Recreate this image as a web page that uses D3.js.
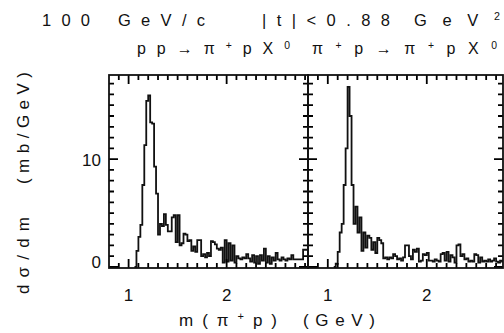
<!DOCTYPE html>
<html>
<head>
<meta charset="utf-8">
<script src="https://cdn.jsdelivr.net/npm/d3@7"></script>
<style>
  body { margin: 0; background: #fff; }
  svg { display: block; }
  text { font-family: "Liberation Sans", Arial, sans-serif; fill: #111; }
</style>
</head>
<body>
<div id="chart"></div>
<script>
// bin edges start at 1.06 GeV, width 0.02 GeV
var binStart = 1.06;
var binWidth = 0.02;

var ppValues = [
    0, 1.5, 2.8, 3.9, 7.6, 11.3, 15.4, 15.9, 13.4, 13.3,
    9.3, 6.8, 3.0, 4.0, 3.8, 4.9, 3.9, 3.3, 3.3, 4.6,
    4.8, 2.3, 4.8, 2.0, 2.2, 3.1, 3.0, 2.4, 2.5, 1.5,
    1.9, 1.4, 2.5, 2.5, 1.0, 1.2, 0.9, 1.3, 1.0, 2.4,
    2.3, 2.1, 1.7, 1.6, 1.8, 0.4, 2.5, 0.5, 2.2, 0.6,
    2.0, 0.4, 1.0, 0.8, 0.7, 0.9, 0.8, 1.2, 0.8, 0.5,
    1.1, 0.4, 1.0, 0.3, 1.1, 0.6, 1.7, 0.4, 1.0, 0.3,
    0.9, 0.6, 1.3, 0.7, 0.6, 0.9, 0.7, 0.6, 0.8, 0.7,
    1.1, 0.7, 0.7, 0.7, 0.7, 0.7, 1.6, 1.6
];

var pipValues = [
    0, 0.3, 1.4, 3.2, 4.0, 7.6, 11.0, 16.7, 14.0, 7.6,
    4.0, 5.6, 3.2, 4.6, 1.5, 3.2, 1.8, 2.9, 2.7, 1.6,
    2.3, 1.3, 2.7, 2.5, 2.2, 0.8, 0.9, 0.7, 0.9, 0.8,
    1.2, 1.0, 0.7, 0.8, 0.6, 0.9, 2.0, 2.0, 1.0, 0.7,
    1.6, 1.4, 1.7, 0.5, 0.6, 1.2, 1.1, 1.3, 0.6, 0.6,
    0.5, 0.7, 0.6, 0.5, 1.2, 1.3, 0.6, 1.4, 0.5, 1.1,
    0.9, 0.4, 2.0, 2.1, 1.0, 1.2, 0.7, 0.8, 0.5, 0.6,
    0.5, 1.2, 1.1, 0.4, 0.9, 0.5, 0.6, 0.5, 0.7, 0.5,
    0.6, 0.8, 0.5, 0.4, 0.6, 0.5, 0.6, 0.5
];

var xTickLabels = [1, 2];
var yTickLabels = [0, 10];
var xMinorTicks = [0.9, 1.1, 1.2, 1.3, 1.4, 1.5, 1.6, 1.7, 1.8, 1.9, 2.1, 2.2, 2.3, 2.4, 2.5, 2.6, 2.7, 2.8];
var yMinorTicks = [1, 2, 3, 4, 5, 6, 7, 8, 9, 11, 12, 13, 14, 15, 16, 17];

var width = 504;
var height = 333;
var frameTop = 75, frameBottom = 268;

var svg = d3.select("#chart").append("svg")
    .attr("width", width)
    .attr("height", height);

var y = d3.scaleLinear().domain([0, 17.8]).range([267, frameTop]);

var panels = [
    { values: ppValues, x: d3.scaleLinear().domain([0.8, 2.83]).range([109, 308]) },
    { values: pipValues, x: d3.scaleLinear().domain([0.8, 2.77]).range([308, 503]) }
];

var line = d3.line()
    .x(function (d) { return d[0]; })
    .y(function (d) { return d[1]; })
    .curve(d3.curveStepAfter);

panels.forEach(function (p, i) {
    var x = p.x;
    var x0 = x.range()[0], x1 = x.range()[1];
    var inDomain = function (d) { return d > x.domain()[0] && d < x.domain()[1]; };

    svg.append("clipPath").attr("id", "clip" + i)
        .append("rect")
        .attr("x", x0).attr("y", frameTop)
        .attr("width", x1 - x0).attr("height", frameBottom - frameTop);

    var pts = [[x(binStart), y(0)]];
    p.values.forEach(function (v, k) {
        pts.push([x(binStart + k * binWidth), y(v)]);
    });
    var last = p.values[p.values.length - 1];
    pts.push([x(binStart + p.values.length * binWidth), y(last)]);

    svg.append("path")
        .attr("clip-path", "url(#clip" + i + ")")
        .attr("d", line(pts))
        .attr("fill", "none")
        .attr("stroke", "#111")
        .attr("stroke-width", 1.8);

    // inward ticks on all four sides, drawn as one path
    var ticks = d3.path();
    var xt = xMinorTicks.filter(inDomain).map(function (t) { return [t, 5]; })
        .concat(xTickLabels.filter(inDomain).map(function (t) { return [t, 9]; }));
    xt.forEach(function (d) {
        var px = x(d[0]);
        ticks.moveTo(px, frameBottom); ticks.lineTo(px, frameBottom - d[1]);
        ticks.moveTo(px, frameTop); ticks.lineTo(px, frameTop + d[1]);
    });
    var yt = yMinorTicks.map(function (t) { return [t, 5]; })
        .concat(yTickLabels.map(function (t) { return [t, 9]; }));
    yt.forEach(function (d) {
        var py = y(d[0]);
        ticks.moveTo(x0, py); ticks.lineTo(x0 + d[1], py);
        ticks.moveTo(x1, py); ticks.lineTo(x1 - d[1], py);
    });
    svg.append("path")
        .attr("d", ticks.toString())
        .attr("fill", "none")
        .attr("stroke", "#000")
        .attr("stroke-width", 1.8);

    svg.append("rect")
        .attr("x", x0).attr("y", frameTop)
        .attr("width", x1 - x0).attr("height", frameBottom - frameTop)
        .attr("fill", "none")
        .attr("stroke", "#111")
        .attr("stroke-width", 1.8);

    xTickLabels.forEach(function (t) {
        svg.append("text")
            .attr("x", x(t)).attr("y", 301)
            .attr("text-anchor", "middle")
            .attr("font-size", 17)
            .text(t);
    });
});

// the zero label sits a little above its tick in the figure
yTickLabels.forEach(function (t) {
    svg.append("text")
        .attr("x", 101).attr("y", t === 0 ? y(t) + 1 : y(t) + 7)
        .attr("text-anchor", "end")
        .attr("font-size", 17)
        .text(t);
});

// spaced-out words, each stretched to the width seen in the figure
function addText(xp, yp, parts, size, len) {
    var t = svg.append("text")
        .attr("x", xp).attr("y", yp)
        .attr("font-size", size)
        .attr("textLength", len)
        .attr("lengthAdjust", "spacing");
    parts.forEach(function (p) {
        var s = t.append("tspan").text(p.t);
        if (p.sup) s.attr("font-size", size * 0.65).attr("baseline-shift", "super");
    });
    return t;
}

addText(42, 26, [{ t: "100" }], 16.5, 48);
addText(118, 26, [{ t: "GeV/c" }], 16.5, 87);
addText(262, 26, [{ t: "|t|<0.88" }], 16.5, 128);
addText(414, 26, [{ t: "GeV" }, { t: "2", sup: true }], 16.5, 86);
addText(137, 54, [{ t: "pp→π" }, { t: "+", sup: true }, { t: "pX" }, { t: "0", sup: true }], 16, 153);
addText(312, 54, [{ t: "π" }, { t: "+", sup: true }, { t: "p→π" }, { t: "+", sup: true }, { t: "pX" }, { t: "0", sup: true }], 16, 185);

addText(179, 326, [{ t: "m(π" }, { t: "+", sup: true }, { t: "p)" }], 17, 98);
addText(303, 326, [{ t: "(GeV)" }], 17, 72);

addText(0, 0, [{ t: "dσ/dm" }], 17, 77)
    .attr("transform", "translate(29,294) rotate(-90)");
addText(0, 0, [{ t: "(mb/GeV)" }], 17, 112)
    .attr("transform", "translate(29,184) rotate(-90)");
</script>
</body>
</html>
